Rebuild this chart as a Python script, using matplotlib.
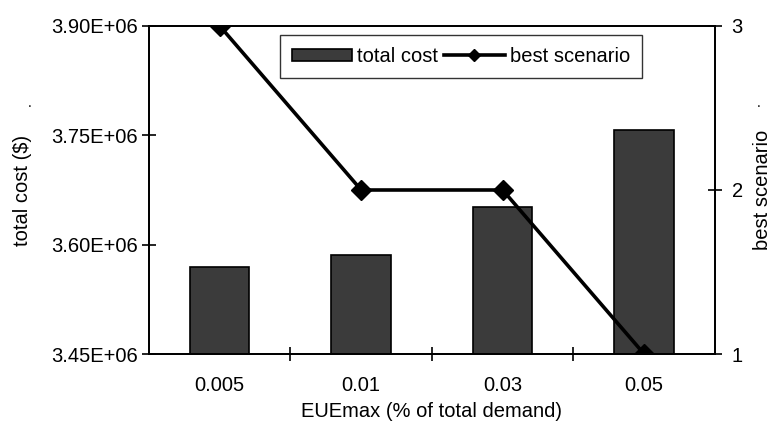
import matplotlib
matplotlib.use("Agg")
import matplotlib.pyplot as plt
from matplotlib.ticker import FixedLocator, FuncFormatter

plt.rcParams['font.family'] = ['Liberation Sans', 'DejaVu Sans']

categories = ["0.005", "0.01", "0.03", "0.05"]
total_cost = [3.570e6, 3.586e6, 3.652e6, 3.757e6]
best_scenario = [3, 2, 2, 1]
cost_ticks = [3.45e6, 3.60e6, 3.75e6, 3.90e6]
scenario_ticks = [1, 2, 3]

FS = 14.5

fig = plt.figure(figsize=(7.72, 4.26), dpi=100)
ax = fig.add_axes([0.193, 0.169, 0.733, 0.770])
ax2 = ax.twinx()

x = list(range(len(categories)))
bars = ax.bar(x, total_cost, width=0.42, color="#3b3b3b", edgecolor="black",
              linewidth=1.2, label="total cost", zorder=2)
ax.set_ylim(3.45e6, 3.90e6)
ax.set_xlim(-0.5, len(categories) - 0.5)
ax.set_yticks(cost_ticks)
ax.yaxis.set_major_formatter(FuncFormatter(lambda v, p: f"{v/1e6:.2f}E+06"))
ax.set_xticks(x)
ax.set_xticklabels(categories)
ax.xaxis.set_minor_locator(FixedLocator([i + 0.5 for i in x[:-1]]))
ax.tick_params(axis='x', which='major', length=0, pad=16, labelsize=FS)
ax.tick_params(axis='x', which='minor', direction='inout', length=10, width=1.2)
ax.tick_params(axis='y', direction='inout', length=10, width=1.2, labelsize=FS, pad=3)

line, = ax2.plot(x, best_scenario, color="black", linewidth=2.6, marker='D',
                 markersize=10, label="best scenario", zorder=3)
ax2.set_ylim(1, 3)
ax2.set_yticks(scenario_ticks)
ax2.tick_params(axis='y', direction='inout', length=10, width=1.2, labelsize=FS, pad=7)

for a in (ax, ax2):
    for s in a.spines.values():
        s.set_linewidth(1.3)

ax.set_xlabel("EUEmax (% of total demand)", fontsize=FS, labelpad=5)
ax.set_ylabel("total cost ($)", fontsize=FS, labelpad=14)
ax2.set_ylabel("best scenario", fontsize=FS, labelpad=7)

leg = ax2.legend([bars, line], ["total cost", "best scenario"], loc="upper center",
                 bbox_to_anchor=(0.551, 0.973), borderaxespad=0, ncol=2, fontsize=FS,
                 frameon=True, fancybox=False, edgecolor="black", handlelength=3.0,
                 handleheight=0.5, columnspacing=0.3, handletextpad=0.25, borderpad=0.6)
leg.get_frame().set_linewidth(1.0)
leg.legend_handles[1].set_markersize(6)

fig.text(0.036, 0.748, ".", fontsize=10)
fig.text(0.980, 0.748, ".", fontsize=10)

fig.savefig("out.png", dpi=100)
